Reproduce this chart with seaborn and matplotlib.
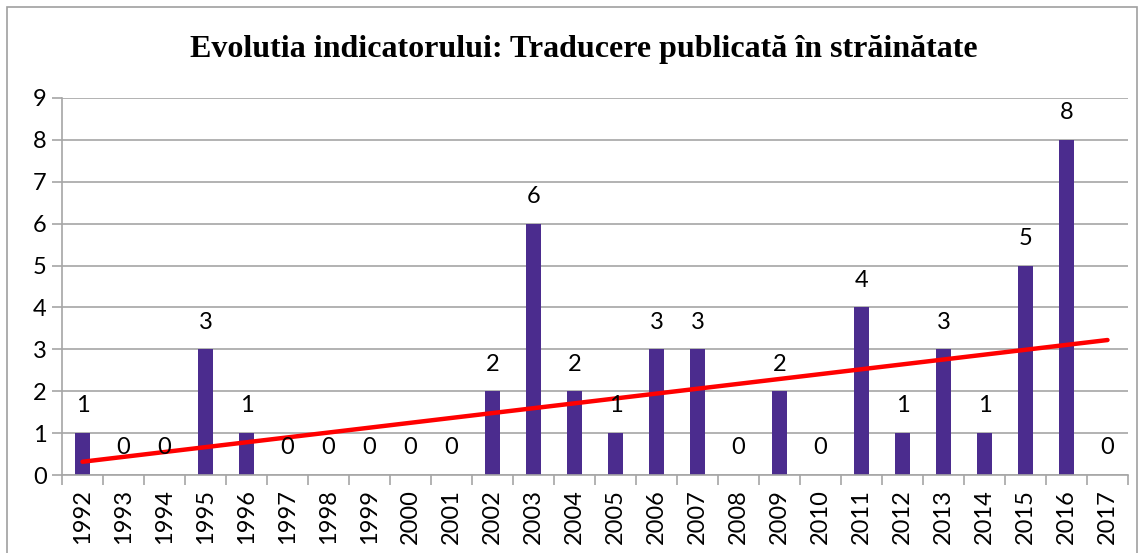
import numpy as np
import pandas as pd
import matplotlib
matplotlib.use("Agg")
import matplotlib.pyplot as plt
from matplotlib.patches import Rectangle
from matplotlib.ticker import MultipleLocator
import seaborn as sns

TITLE = "Evolutia indicatorului: Traducere publicată în străinătate"
years = [str(y) for y in range(1992, 2018)]
counts = [1, 0, 0, 3, 1, 0, 0, 0, 0, 0, 2, 6, 2, 1, 3, 3, 0, 2, 0, 4, 1, 3, 1, 5, 8, 0]

BAR_COLOR = "#4B2C8E"
GRID_COLOR = "#A6A6A6"

df = pd.DataFrame({"year": years, "count": counts})
df["pos"] = np.arange(len(df))

sns.set_theme(style="white")
plt.rcParams["font.family"] = ["Lato", "DejaVu Sans"]
plt.rcParams["text.color"] = "black"
plt.rcParams["xtick.color"] = "black"
plt.rcParams["ytick.color"] = "black"

fig = plt.figure(figsize=(11.45, 5.53), dpi=100)
ax = fig.add_axes([62 / 1145, 1 - 475 / 553, (1128 - 62) / 1145, (475 - 98) / 553])

sns.barplot(data=df, x="year", y="count", color=BAR_COLOR, width=0.38,
            saturation=1, linewidth=0, ax=ax, zorder=2)

# linear trend line, fitted by seaborn over the category positions
sns.regplot(data=df, x="pos", y="count", scatter=False, ci=None,
            color="#FF0000", line_kws={"lw": 3.2, "zorder": 4}, ax=ax)

for i, v in enumerate(counts):
    ax.annotate(str(v), (i, v), xytext=(0, 12), textcoords="offset points",
                ha="center", va="bottom", fontsize=17, color="black", zorder=5)

ax.set_ylim(0, 9)
ax.set_xlim(-0.5, len(years) - 0.5)
ax.yaxis.set_major_locator(MultipleLocator(1))
ax.grid(axis="y", color=GRID_COLOR, lw=1.2, zorder=0)
ax.set_axisbelow(True)
ax.set_xlabel("")
ax.set_ylabel("")

ax.set_xticks(range(len(years)))
ax.set_xticklabels(years, rotation=90, fontsize=17)
ax.set_xticks(np.arange(-0.5, len(years)), minor=True)
ax.tick_params(axis="x", which="major", length=0, pad=10, colors="black")
ax.tick_params(axis="x", which="minor", length=7, width=1.2, color=GRID_COLOR, bottom=True)
ax.tick_params(axis="y", length=7, width=1.2, color=GRID_COLOR, labelcolor="black",
               left=True, labelsize=17, pad=4)

for side in ["top", "right"]:
    ax.spines[side].set_visible(False)
for side in ["left", "bottom"]:
    ax.spines[side].set_color(GRID_COLOR)
    ax.spines[side].set_linewidth(1.2)

fig.text(0.51, 1 - 49 / 553, TITLE, ha="center", va="center", fontsize=23,
         fontweight="bold", color="black", family=["Liberation Serif", "DejaVu Serif"])

fig.patches.append(Rectangle((7 / 1145, -0.02), 1130 / 1145, 1 - 7 / 553 + 0.02,
                             transform=fig.transFigure, fill=False,
                             edgecolor="#A0A0A0", lw=1.2))

fig.savefig("out.png", dpi=100)
